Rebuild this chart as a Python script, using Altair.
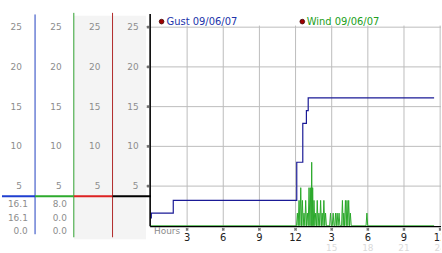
import altair as alt
import pandas as pd

# ---------------- data ----------------
gust_hours = [0.0, 0.03, 1.85, 12.1, 12.6, 12.9, 13.05, 23.5]
gust_values = [1.0, 1.6, 3.2, 8.0, 12.9, 14.5, 16.1, 16.1]

wind_hours = [0.00, 12.08, 12.15, 12.22, 12.29, 12.36, 12.43, 12.50, 12.57, 12.63,
              12.70, 12.77, 12.84, 12.91, 12.98, 13.05, 13.12, 13.19, 13.26, 13.30,
              13.34, 13.38, 13.42, 13.47, 13.53, 13.60, 13.67, 13.74, 13.80, 13.87,
              13.94, 14.01, 14.08, 14.15, 14.21, 14.28, 14.35, 14.42, 14.49, 14.56,
              14.83, 14.90, 14.97, 15.05, 15.12, 15.19, 15.25, 15.32, 15.38, 15.45,
              15.53, 15.61, 15.68, 15.82, 15.89, 15.95, 16.00, 16.07, 16.14, 16.21,
              16.27, 16.34, 16.41, 16.48, 16.55, 16.62, 17.85, 17.92, 17.99, 23.50]
wind_values = [0, 0, 1.6, 0, 3.2, 0, 4.8, 0, 3.2, 0,
               1.6, 0, 3.2, 0, 1.6, 0, 4.8, 0, 4.8, 0,
               8.0, 0, 4.8, 0, 3.2, 0, 1.6, 0, 3.2, 0,
               1.6, 0, 3.2, 0, 1.6, 0, 3.2, 0, 1.6, 0,
               0, 1.6, 0, 0, 1.6, 0, 0, 1.6, 0, 1.6,
               0, 1.6, 0, 0, 3.2, 0, 1.6, 0, 3.2, 0,
               3.2, 0, 3.2, 0, 1.6, 0, 0, 1.6, 0, 0]

y_ticks = [5, 10, 15, 20, 25]
x_ticks = [3, 6, 9, 12, 15, 18, 21, 24]
x_tick_labels = ["3", "6", "9", "12", "3", "6", "9", "12"]
x_tick_labels_24 = ["", "", "", "", "15", "18", "21", "24"]
legend_labels = ["Gust 09/06/07", "Wind 09/06/07"]
legend_colors = ["#2233aa", "#22a022"]
readout_col1 = ["16.1", "16.1", "0.0"]
readout_col2 = ["8.0", "0.0", "0.0"]

# ---------------- scales ----------------
H = 253
Y = alt.Scale(domain=[-3.3125, 28.3125], nice=False, zero=False)
XL = alt.Scale(domain=[0, 150], nice=False, zero=False)
XMAX = 292 / 12.13
XM = alt.Scale(domain=[0, XMAX], nice=False, zero=False)
FONT = "DejaVu Sans"


def xl(f):
    return alt.X(f, scale=XL, axis=None)


def xm(f):
    return alt.X(f, scale=XM, axis=None)


def yy(f):
    return alt.Y(f, scale=Y, axis=None)


# ---------------- left readout panel ----------------
bg = alt.Chart(pd.DataFrame({"x": [72.5], "x2": [145], "y": [26.45], "y2": [-1.7]})).mark_rect(
    color="#f4f4f4").encode(x=xl("x:Q"), x2="x2:Q", y=yy("y:Q"), y2="y2:Q")

vlines = alt.Chart(pd.DataFrame({
    "x": [33.3, 72.3, 111.3], "y": [26.6, 26.8, 26.8], "y2": [-1.06, -1.44, -1.44],
    "c": ["#2040c0", "#2ea02e", "#b02828"]})).mark_rule(strokeWidth=1).encode(
    x=xl("x:Q"), y=yy("y:Q"), y2="y2:Q", color=alt.Color("c:N", scale=None))

hbar = alt.Chart(pd.DataFrame({
    "x": [0, 33.3, 72.3, 111.3], "x2": [33.3, 72.3, 111.3, 150], "y": [3.72] * 4,
    "c": ["#1f3fd0", "#2eaa2e", "#dd2222", "#000000"]})).mark_rule(strokeWidth=2.2).encode(
    x=xl("x:Q"), x2="x2:Q", y=yy("y:Q"), color=alt.Color("c:N", scale=None))

col_right = [20, 60, 99, 137.5]
lab_rows = [{"x": c, "y": v, "t": str(v)} for c in col_right for v in y_ticks]
scale_labels = alt.Chart(pd.DataFrame(lab_rows)).mark_text(
    align="right", baseline="middle", font=FONT, fontSize=9, color="#8c8c8c").encode(
    x=xl("x:Q"), y=yy("y:Q"), text="t:N")

read_y = [2.78, 1.03, -0.65]
read_rows = [{"x": 26, "y": read_y[i], "t": readout_col1[i]} for i in range(3)] + \
            [{"x": 65.3, "y": read_y[i], "t": readout_col2[i]} for i in range(3)]
readouts = alt.Chart(pd.DataFrame(read_rows)).mark_text(
    align="right", baseline="middle", font=FONT, fontSize=9, color="#8c8c8c").encode(
    x=xl("x:Q"), y=yy("y:Q"), text="t:N")

left = alt.layer(bg, vlines, hbar, scale_labels, readouts).properties(width=150, height=H)

# ---------------- main plot ----------------
GRID = "#bcbcbc"
hgrid = alt.Chart(pd.DataFrame({"y": y_ticks, "x": [0] * 5, "x2": [XMAX] * 5})).mark_rule(
    color=GRID, strokeWidth=1).encode(x=xm("x:Q"), x2="x2:Q", y=yy("y:Q"))
vgrid = alt.Chart(pd.DataFrame({"x": x_ticks, "y": [25.2] * 8, "y2": [0] * 8})).mark_rule(
    color=GRID, strokeWidth=1, clip=True).encode(x=xm("x:Q"), y=yy("y:Q"), y2="y2:Q")

wind = alt.Chart(pd.DataFrame({"h": wind_hours, "v": wind_values})).mark_line(
    color="#2aa82a", strokeWidth=1).encode(x=xm("h:Q"), y=yy("v:Q"), order="h:Q")
gust = alt.Chart(pd.DataFrame({"h": gust_hours, "v": gust_values})).mark_line(
    color="#1a1a96", strokeWidth=1.2, interpolate="step-after").encode(
    x=xm("h:Q"), y=yy("v:Q"), order="h:Q")

axis_v = alt.Chart(pd.DataFrame({"x": [-0.07], "y": [26.65], "y2": [-0.06]})).mark_rule(
    color="#000000", strokeWidth=1.6).encode(x=xm("x:Q"), y=yy("y:Q"), y2="y2:Q")
axis_h = alt.Chart(pd.DataFrame({"x": [-0.07], "x2": [XMAX], "y": [-0.11]})).mark_rule(
    color="#000000", strokeWidth=1.2).encode(x=xm("x:Q"), x2="x2:Q", y=yy("y:Q"))

yglyph = alt.Chart(pd.DataFrame({"x": [-0.25] * 5, "y": y_ticks})).mark_point(
    shape="cross", angle=45, filled=True, size=10, color="#333333").encode(x=xm("x:Q"), y=yy("y:Q"))
xglyph = alt.Chart(pd.DataFrame({"x": x_ticks, "y": [-0.44] * 8})).mark_point(
    shape="cross", angle=45, filled=True, size=10, color="#333333", clip=True).encode(
    x=xm("x:Q"), y=yy("y:Q"))

xlabels = alt.Chart(pd.DataFrame({"x": x_ticks, "y": [-1.5] * 8, "t": x_tick_labels})).mark_text(
    align="center", baseline="middle", font=FONT, fontSize=10, color="#222222", clip=True).encode(
    x=xm("x:Q"), y=yy("y:Q"), text="t:N")
xlabels24 = alt.Chart(pd.DataFrame({"x": x_ticks, "y": [-2.75] * 8, "t": x_tick_labels_24})).mark_text(
    align="center", baseline="middle", font=FONT, fontSize=9, color="#dadada", clip=True).encode(
    x=xm("x:Q"), y=yy("y:Q"), text="t:N")
hours = alt.Chart(pd.DataFrame({"x": [0.25], "y": [-0.65], "t": ["Hours"]})).mark_text(
    align="left", baseline="middle", font=FONT, fontSize=9, color="#8c8c8c").encode(
    x=xm("x:Q"), y=yy("y:Q"), text="t:N")

leg_dots = alt.Chart(pd.DataFrame({"x": [0.88, 12.56], "y": [25.7, 25.7]})).mark_circle(
    size=22, color="#a00000", opacity=1, stroke="#400000", strokeWidth=0.8).encode(
    x=xm("x:Q"), y=yy("y:Q"))
leg_text = alt.Chart(pd.DataFrame({"x": [1.29, 12.92], "y": [25.7, 25.7],
                                   "t": legend_labels, "c": legend_colors})).mark_text(
    align="left", baseline="middle", font=FONT, fontSize=10).encode(
    x=xm("x:Q"), y=yy("y:Q"), text="t:N", color=alt.Color("c:N", scale=None))

main = alt.layer(hgrid, vgrid, wind, gust, axis_v, axis_h, yglyph, xglyph,
                 xlabels, xlabels24, hours, leg_dots, leg_text).properties(width=292, height=H)

chart = alt.hconcat(left, main, spacing=0, bounds="flush").properties(
    padding=0, background="white").configure_view(stroke=None)

chart.save("out.html", embed_options={"renderer": "svg", "actions": False})
